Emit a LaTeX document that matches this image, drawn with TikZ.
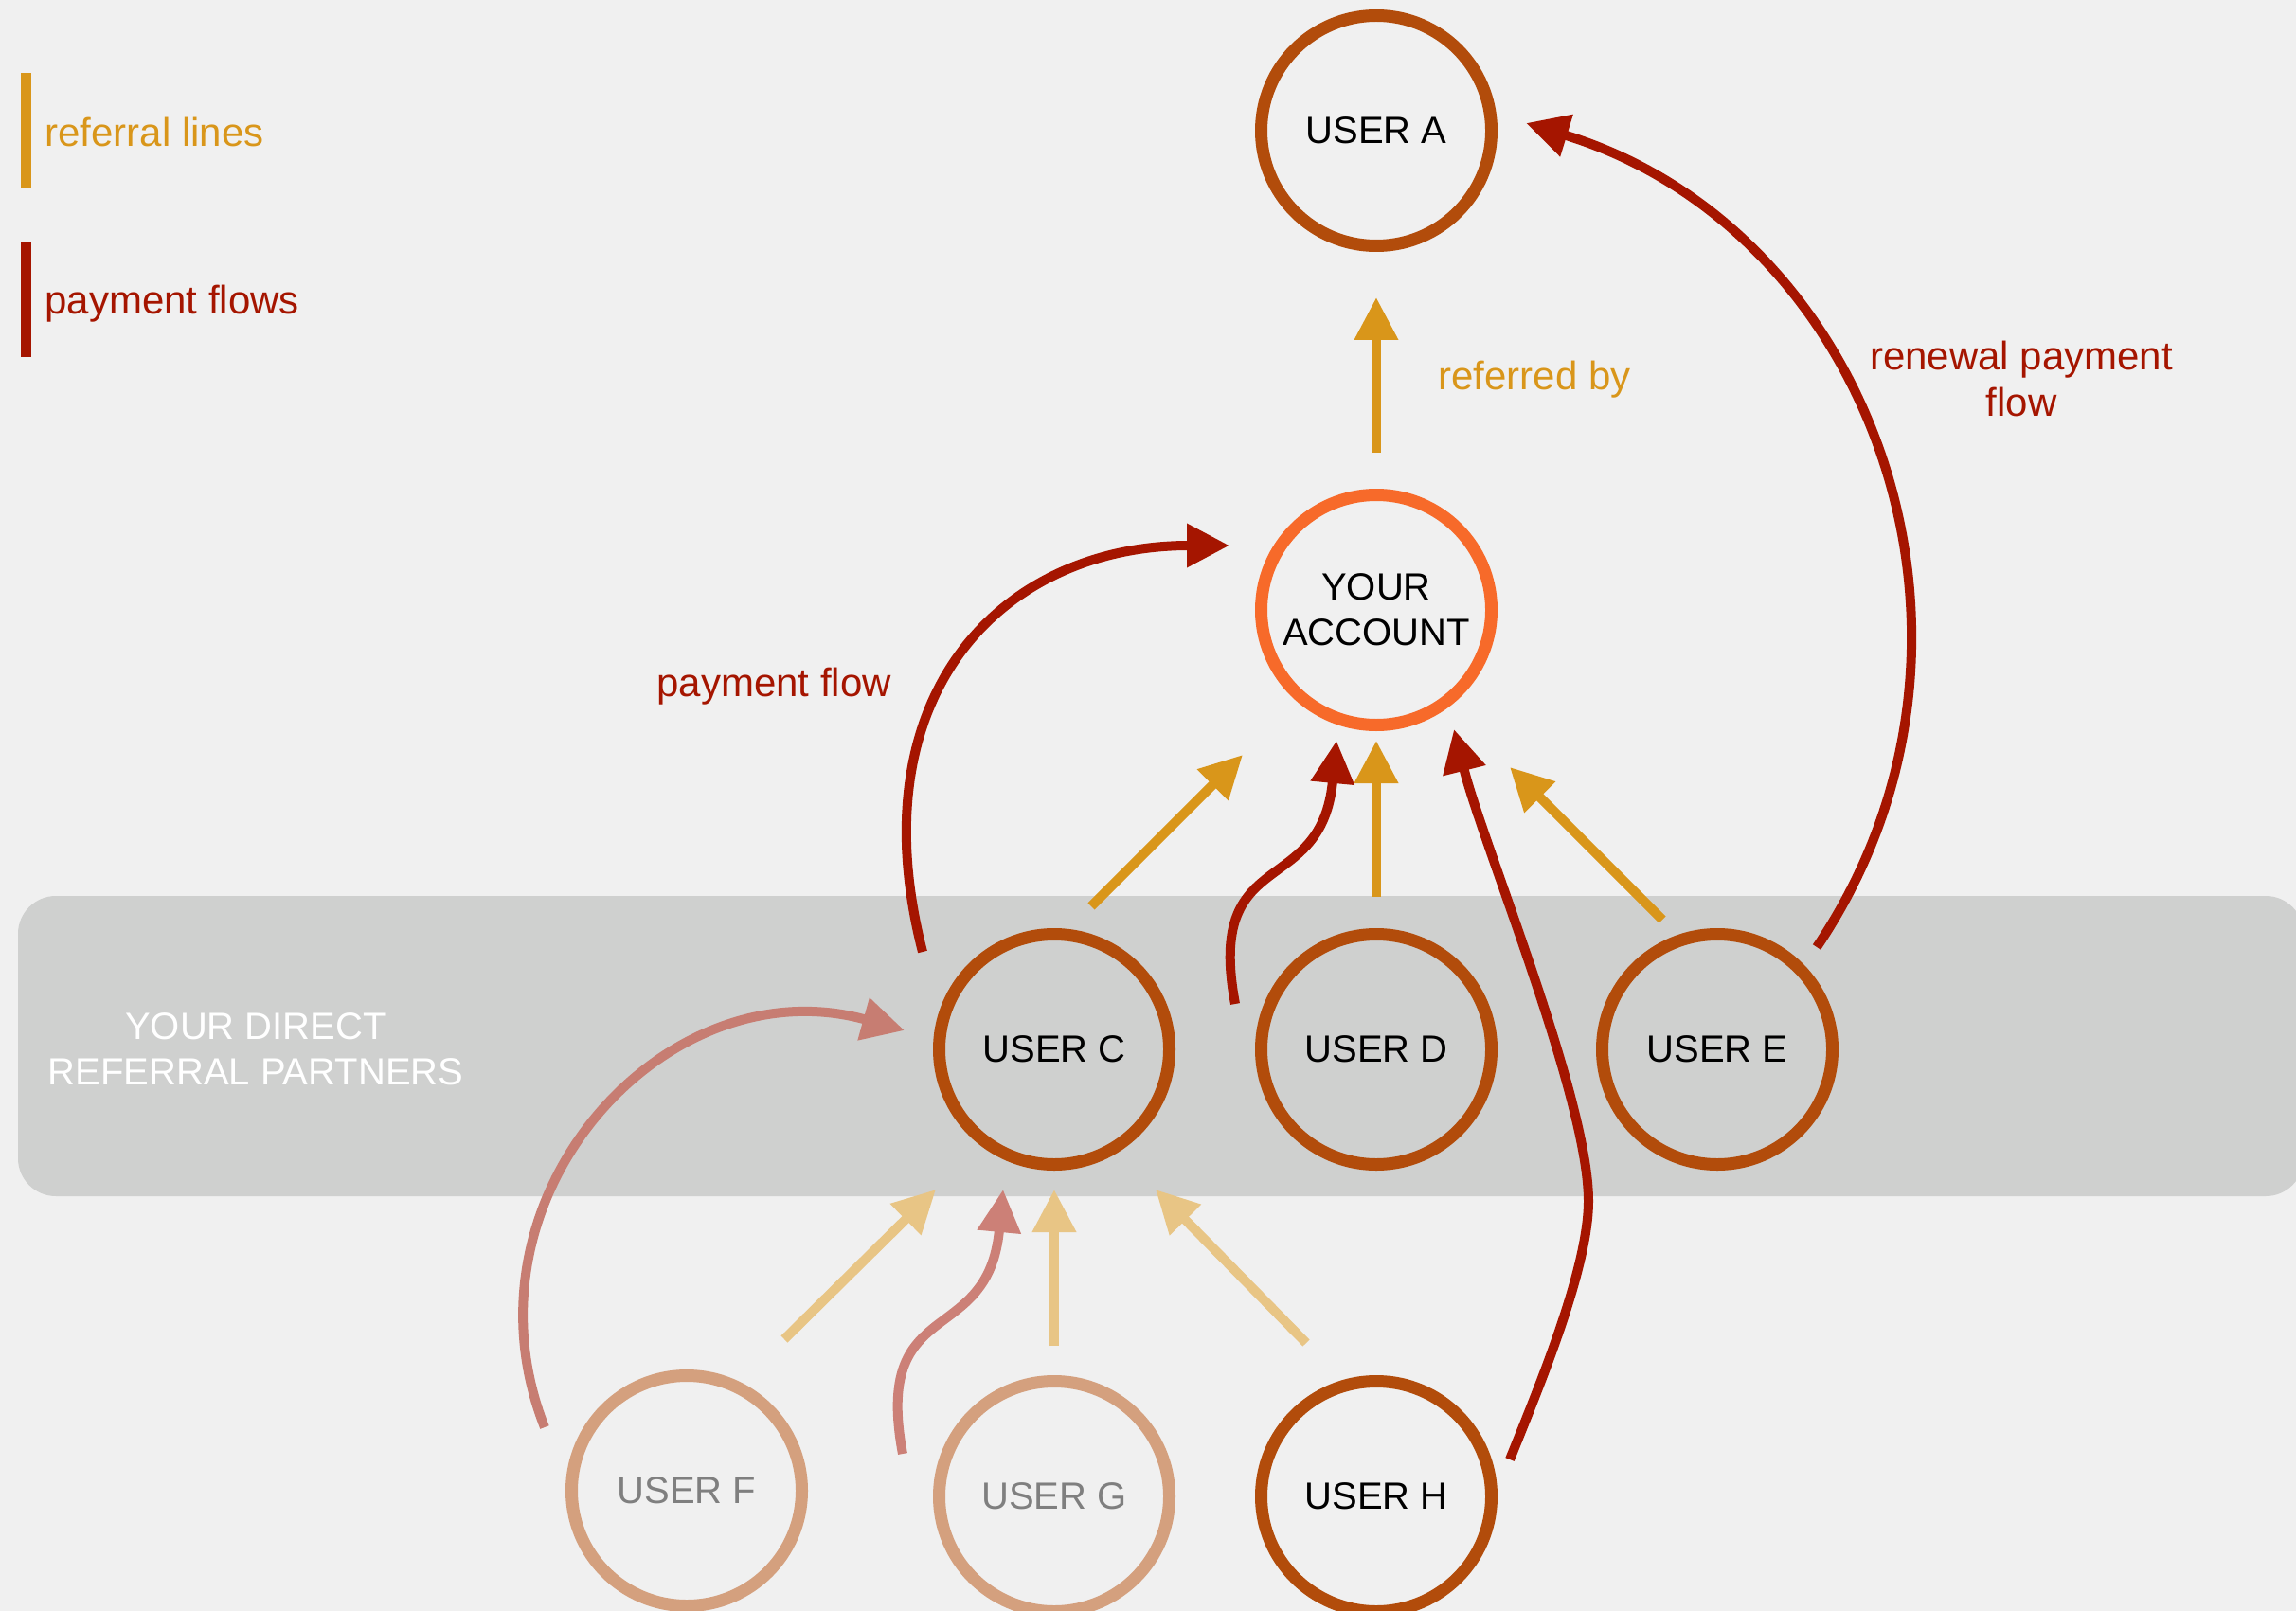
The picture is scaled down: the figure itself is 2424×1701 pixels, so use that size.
\documentclass[tikz,border=0pt]{standalone}
\usepackage{fontspec}
\setmainfont{Liberation Sans}
\usetikzlibrary{arrows.meta,calc}
\definecolor{bgc}{HTML}{F0F0F0}
\definecolor{bandc}{HTML}{CFD0CF}
\definecolor{ringbrown}{HTML}{B24C0B}
\definecolor{ringorange}{HTML}{F76A2A}
\definecolor{ringfaded}{HTML}{D4A07E}
\definecolor{reforange}{HTML}{D9961A}
\definecolor{payred}{HTML}{A51500}
\definecolor{fadedorange}{HTML}{E8C585}
\definecolor{fadedred}{HTML}{CC8077}
\definecolor{fadedredF}{HTML}{C77D72}
\definecolor{greytext}{HTML}{7F7F7F}
\newcommand\ndfont{\fontsize{20pt}{24pt}\selectfont}
\newcommand\lblfont{\fontsize{21pt}{24.5pt}\selectfont}
\begin{document}
\begin{tikzpicture}[x=0.5pt,y=-0.5pt,
  ring/.style={circle, draw=ringbrown, line width=6.5pt, minimum size=121.5pt, inner sep=0pt, font=\ndfont, align=center, text=black},
  fadedring/.style={ring, draw=ringfaded, text=greytext},
  tipstyle/.style={-{Triangle[length=22.5pt,width=22pt]}},
  refline/.style={tipstyle, draw=reforange, line width=5pt},
  fadedref/.style={tipstyle, draw=fadedorange, line width=5pt},
  payline/.style={tipstyle, draw=payred, line width=5pt},
  fadedpay/.style={tipstyle, draw=fadedred, line width=5pt},
  lbl/.style={font=\lblfont, inner sep=0pt}
]
\useasboundingbox (0,0) rectangle (2424,1701);
\fill[bgc] (0,0) rectangle (2424,1701);
% band of direct referral partners
\fill[bandc, rounded corners=20pt] (19,946) rectangle (2432,1263);
\node[font=\ndfont, text=white, align=center, inner sep=0pt] (bandlbl) at (270,1108) {YOUR DIRECT\\REFERRAL PARTNERS};

% legend
\fill[reforange] (22,77) rectangle (33,199);
\fill[payred] (22,255) rectangle (33,377);
\node[lbl, text=reforange, anchor=base west] (legref) at (47,155) {referral lines};
\node[lbl, text=payred, anchor=base west] (legpay) at (47,332) {payment flows};

% nodes
\node[ring] (A) at (1453,138) {USER A};
\node[ring, draw=ringorange] (acc) at (1453,644) {YOUR\\ACCOUNT};
\node[ring] (C) at (1113,1108) {USER C};
\node[ring] (D) at (1453,1108) {USER D};
\node[ring] (E) at (1813,1108) {USER E};
\node[fadedring] (F) at (725,1574) {USER F};
\node[fadedring] (G) at (1113,1580) {USER G};
\node[ring] (H) at (1453,1580) {USER H};

% labels
\node[lbl, text=reforange, anchor=base west] (lref) at (1518,411) {referred by};
\node[lbl, text=payred, align=center] (lren) at (2134,400) {renewal payment\\flow};
\node[lbl, text=payred, anchor=base west] (lpay) at (693,735) {payment flow};

% connector end points
\coordinate (accA1) at ($(acc)+(0,-166)$);
\coordinate (accA2) at ($(A)+(0,176)$);
\coordinate (Cacc1) at ($(C)+(39,-151)$);
\coordinate (Cacc2) at ($(acc)+(-141,153)$);
\coordinate (Dacc1) at ($(D)+(0,-161)$);
\coordinate (Dacc2) at ($(acc)+(0,138)$);
\coordinate (Eacc1) at ($(E)+(-58,-137)$);
\coordinate (Eacc2) at ($(acc)+(141,166)$);
\coordinate (FC1) at ($(F)+(103,-160)$);
\coordinate (FC2) at ($(C)+(-125,148)$);
\coordinate (GC1) at ($(G)+(0,-159)$);
\coordinate (GC2) at ($(C)+(0,148)$);
\coordinate (HC1) at ($(H)+(-74,-162)$);
\coordinate (HC2) at ($(C)+(107,148)$);

\coordinate (pC1) at ($(C)+(-139,-103)$);
\coordinate (pC2) at ($(acc)+(-155,-68)$);
\coordinate (pE1) at ($(E)+(105,-108)$);
\coordinate (pE2) at ($(A)+(158,-8)$);
\coordinate (pD1) at ($(D)+(-149,-48)$);
\coordinate (pD2) at ($(acc)+(-42,138)$);
\coordinate (pH1) at ($(H)+(141,-39)$);
\coordinate (pHm) at (1677,1268);
\coordinate (pH2) at ($(acc)+(82,126)$);
\coordinate (pF1) at ($(F)+(-150,-67)$);
\coordinate (pF2) at ($(C)+(-158,-20)$);
\coordinate (pG1) at ($(G)+(-160,-45)$);
\coordinate (pG2) at ($(C)+(-54,148)$);

% referral lines
\draw[refline] (accA1) -- (accA2);
\draw[refline] (Cacc1) -- (Cacc2);
\draw[refline] (Dacc1) -- (Dacc2);
\draw[refline] (Eacc1) -- (Eacc2);
\draw[fadedref] (FC1) -- (FC2);
\draw[fadedref] (GC1) -- (GC2);
\draw[fadedref] (HC1) -- (HC2);

% payment flows
\draw[payline] (pC1) .. controls (904,733) and (1058,576) .. (pC2);
\draw[payline] (pE1) .. controls (2134,680) and (1980,243) .. (pE2);
\draw[payline] (pD1) .. controls (1272,890) and (1395,951) .. (pD2);
\draw[payline] (pH1) .. controls (1624,1466) and (1677,1340) .. (pHm) .. controls (1677,1160) and (1565,890) .. (pH2);
\draw[fadedpay, draw=fadedredF] (pF1) .. controls (479,1264) and (703,1018) .. (pF2);
\draw[fadedpay] (pG1) .. controls (921,1365) and (1043,1425) .. (pG2);
\end{tikzpicture}
\end{document}
